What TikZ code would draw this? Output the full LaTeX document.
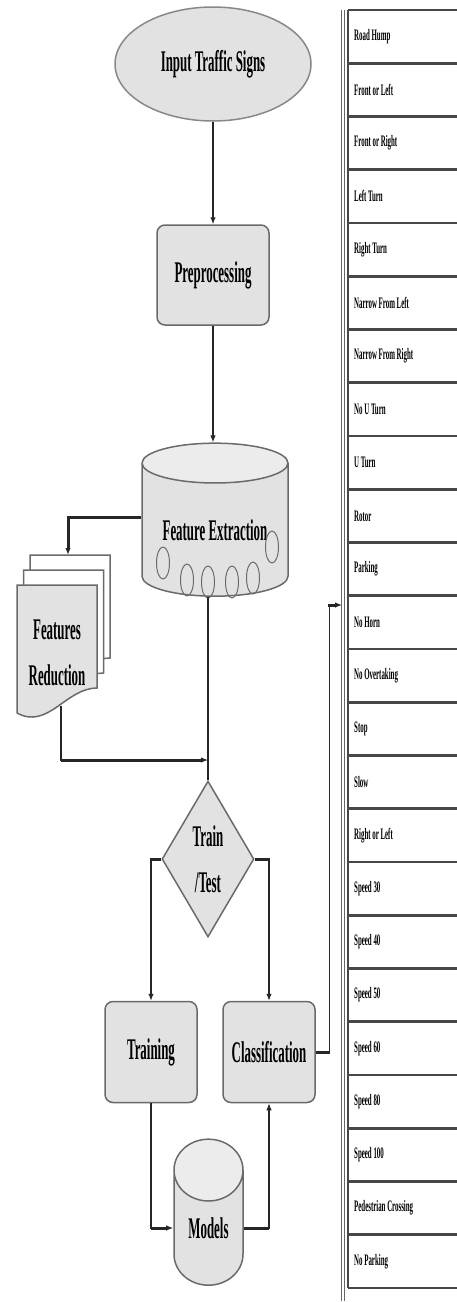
\documentclass[tikz,border=0pt]{standalone}
\usepackage{fontspec}
\newfontfamily\labelfont[FakeStretch=0.43]{Liberation Serif}
\usetikzlibrary{arrows.meta,positioning,shapes.geometric}
\definecolor{boxfill}{HTML}{E2E2E2}
\definecolor{endfill}{HTML}{ECECEC}
\definecolor{edge}{HTML}{6A6A6A}
\definecolor{wire}{HTML}{262626}

\tikzset{
    every node/.style={font=\labelfont\bfseries\fontsize{30}{46}\selectfont},
    blk/.style={draw=edge, line width=1.5pt, fill=boxfill, rounded corners=8pt,
                inner sep=0pt, align=center},
    store/.style={cylinder, shape border rotate=90, draw=edge, line width=1.5pt,
                  cylinder uses custom fill, cylinder body fill=boxfill,
                  cylinder end fill=endfill, inner sep=0pt},
    wire/.style={draw=wire, line width=1.2pt},
    bar/.style={draw=wire, line width=3pt},
    rowline/.style={draw=wire!85, line width=2.8pt},
    signrow/.style={anchor=west, inner sep=0pt,
                    font=\labelfont\bfseries\fontsize{16}{18}\selectfont}
}

\begin{document}
\begin{tikzpicture}[x=1pt,y=-1pt,>={Latex[length=7pt,width=5.5pt]}]
    \useasboundingbox (0,0) rectangle (456,1302);

    % flow chart
    \node[ellipse, draw=edge!80, line width=1.5pt, fill=boxfill, minimum width=196pt,
          minimum height=114pt, inner sep=0pt] (input) at (213,64) {Input Traffic Signs};
    \node[blk, minimum width=112pt, minimum height=100pt] (prep) at (213,275) {Preprocessing};
    \node[store, aspect=0.38, minimum width=146pt, minimum height=153pt] (fe) at (215,530)
          {Feature Extraction};
    \node[diamond, draw=edge, line width=1.5pt, fill=boxfill, aspect=0.59, inner sep=0pt,
          minimum width=92pt, minimum height=156pt, align=center] (tt) at (208,859)
          {Train\\/Test};
    \node[blk, minimum width=92pt, minimum height=101pt] (train) at (151,1052) {Training};
    \node[blk, minimum width=92pt, minimum height=101pt] (cls) at (269,1052) {Classification};
    \node[store, aspect=1.54, minimum width=69pt, minimum height=146pt] (mod) at (208.5,1228)
          {Models};

    % small rings on the extraction drum
    \foreach \cx/\cy in {163/563,187/580,208/582,232/582,253/578,272/547}
    {
        \draw[edge, line width=1pt] (\cx,\cy) ellipse [x radius=6.5pt, y radius=16pt];
    }

    \coordinate (frtop) at (68,555);
    \coordinate (frbot) at (61,706);
    \coordinate (join) at (208,760);
    \coordinate (tap) at (342,605);

    \draw[wire,->] (input) -- (prep);
    \draw[wire,->] (prep.south) -- (prep.south |- fe.north);
    \draw[bar,->] ([yshift=13pt]fe.west) -| (frtop);
    \draw[wire] (fe.south -| tt.north) -- (tt.north);
    \draw[wire,->] (frbot) |- (join);
    \draw[bar] (frbot |- join) -- ([xshift=-6pt]join);

    % stacked reports
    \foreach \d/\f in {2/white,1/white,0/boxfill}
    {
        \filldraw[draw=edge, line width=1.5pt, fill=\f, shift={(6.5*\d,-15*\d)}]
            (17,585) -- (97,585) -- (97,688)
            .. controls (66,688) and (48,730) .. (17,713) -- cycle;
    }
    \node[align=center] (fr) at (57,653) {Features\\Reduction};

    \draw[wire,->] (tt.west) -| (train.north);
    \draw[bar] (tt.west) -- (tt.west -| train.north);
    \draw[wire,->] (tt.east) -| (cls.north);
    \draw[bar] (tt.east) -- (tt.east -| cls.north);
    \draw[wire,->] (train.south) |- (mod.west);
    \draw[bar] (train.south |- mod.west) -- ([xshift=-6pt]mod.west);
    \draw[wire,->] (mod.east) -| (cls.south);
    \draw[bar] (mod.east) -- (mod.east -| cls.south);
    \draw[wire,->] (cls.east) -- ++(14,0) |- (tap);
    \draw[bar] (cls.east) -- ++(14,0);
    \draw[bar] (tap -| 328,0) -- ([xshift=-6pt]tap);

    % list of sign classes
    \draw[wire!70, line width=1pt, double=white, double distance=1.6pt] (343,10) -- (343,1301);
    \draw[rowline] (348,10) -- (348,1288);
    \foreach \i in {0,...,24}
    {
        \draw[rowline] (348,{10+53.25*\i}) -- (470,{10+53.25*\i});
    }
    \foreach \lab [count=\i] in {Road Hump,Front or Left,Front or Right,Left Turn,Right Turn,
        Narrow From Left,Narrow From Right,No U Turn,U Turn,Rotor,Parking,No Horn,
        No Overtaking,Stop,Slow,Right or Left,Speed 30,Speed 40,Speed 50,Speed 60,
        Speed 80,Speed 100,Pedestrian Crossing,No Parking}
    {
        \node[signrow] (s\i) at (354,{10+53.25*(\i-0.5)}) {\lab};
    }
\end{tikzpicture}
\end{document}
